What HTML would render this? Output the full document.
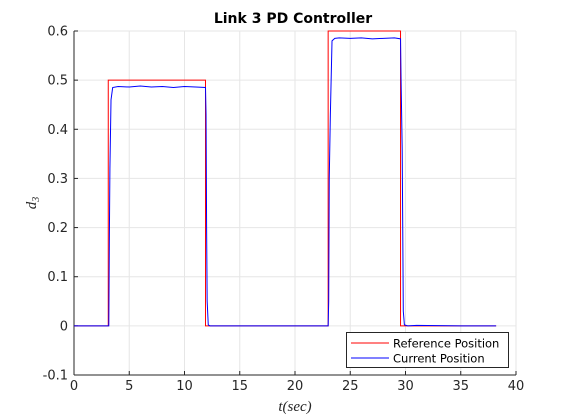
<!DOCTYPE html>
<html><head><meta charset="utf-8"><style>
body{margin:0;background:#fff;}
svg{display:block;font-family:"DejaVu Sans","Liberation Sans",sans-serif;}
</style></head><body>
<svg id="chart" width="570" height="420" viewBox="0 0 570 420"></svg>
<script>
const xTicks=[0,5,10,15,20,25,30,35,40];
const yTicks=[-0.1,0,0.1,0.2,0.3,0.4,0.5,0.6];
const yTickLabels=["-0.1","0","0.1","0.2","0.3","0.4","0.5","0.6"];
const refT=[0,3.1,3.1,11.9,11.9,23.0,23.0,29.55,29.55,38.2];
const refY=[0,0,0.5,0.5,0,0,0.6,0.6,0,0];
const curT=[0,3.15,3.2,3.25,3.35,3.5,4,5,6,7,8,9,10,11,11.9,11.95,12.0,12.05,12.15,12.3,15,20,23.0,23.05,23.1,23.2,23.35,23.6,24,25,26,27,28,29,29.55,29.6,29.7,29.75,29.8,29.9,30.2,31,35,38.2];
const curY=[0,0,0.18,0.32,0.46,0.485,0.487,0.486,0.488,0.486,0.487,0.485,0.487,0.486,0.485,0.43,0.2,0.05,0.002,0,0,0,0,0.05,0.3,0.43,0.58,0.585,0.586,0.585,0.586,0.584,0.585,0.586,0.584,0.5,0.36,0.2,0.03,0.002,0,0.001,0,0];
const L=74,R=516,T=31,B=375;
const xs=v=>L+(v-0)/(40-0)*(R-L);
const ys=v=>B-(v+0.1)/(0.7)*(B-T);
const svg=document.getElementById('chart');
const NS="http://www.w3.org/2000/svg";
function mk(tag,attrs,parent){const e=document.createElementNS(NS,tag);for(const k in attrs)e.setAttribute(k,attrs[k]);(parent||svg).appendChild(e);return e;}
const grid=mk('g',{});


xTicks.forEach(t=>{mk('line',{x1:xs(t),x2:xs(t),y1:T,y2:B,stroke:'#e6e6e6','stroke-width':1},grid);});
yTicks.forEach(t=>{mk('line',{x1:L,x2:R,y1:ys(t),y2:ys(t),stroke:'#e6e6e6','stroke-width':1},grid);});
const ax=mk('g',{stroke:'#262626','stroke-width':1});


mk('line',{x1:L,x2:R,y1:B,y2:B},ax);
mk('line',{x1:L,x2:L,y1:T,y2:B},ax);
xTicks.forEach(t=>{mk('line',{x1:xs(t),x2:xs(t),y1:B,y2:B-4},ax);
 const tx=mk('text',{x:xs(t),y:B+15,'text-anchor':'middle','font-size':13,fill:'#262626'});tx.textContent=t;
 
 });
yTicks.forEach((t,i)=>{mk('line',{x1:L,x2:L+4,y1:ys(t),y2:ys(t)},ax);
 const tx=mk('text',{x:L-6,y:ys(t)+4.5,'text-anchor':'end','font-size':13,fill:'#262626'});tx.textContent=yTickLabels[i];
 
 });
const ref=mk('polyline',{points:refT.map((t,i)=>xs(t)+','+ys(refY[i])).join(' '),fill:'none',stroke:'#ff0000','stroke-width':1});


const cur=mk('polyline',{points:curT.map((t,i)=>xs(t)+','+ys(curY[i])).join(' '),fill:'none',stroke:'#0000ff','stroke-width':1});


const title=mk('text',{x:293,y:23,'text-anchor':'middle','font-size':14,'font-weight':'bold',fill:'#000'});title.textContent='Link 3 PD Controller';


const xl=mk('text',{x:295,y:411,'text-anchor':'middle','font-size':15,'font-style':'italic','font-family':'Liberation Serif,serif',fill:'#262626'});xl.textContent='t(sec)';


const yl=mk('text',{x:36,y:203,'text-anchor':'middle','font-size':15,'font-style':'italic','font-family':'Liberation Serif,serif',fill:'#262626',transform:'rotate(-90 36 203)'});yl.innerHTML='d<tspan font-size="10" dy="3">3</tspan>';


const lg=mk('g',{});


mk('rect',{x:346.5,y:332.5,width:162,height:35,fill:'#fff',stroke:'#262626','stroke-width':1},lg);
mk('line',{x1:351,x2:389,y1:343,y2:343,stroke:'#ff0000'},lg);
mk('line',{x1:351,x2:389,y1:358,y2:358,stroke:'#0000ff'},lg);
const t1=mk('text',{x:393,y:347.5,'font-size':11.5,fill:'#000'},lg);t1.textContent='Reference Position';


const t2=mk('text',{x:393,y:362.5,'font-size':11.5,fill:'#000'},lg);t2.textContent='Current Position';


</script>
</body></html>
